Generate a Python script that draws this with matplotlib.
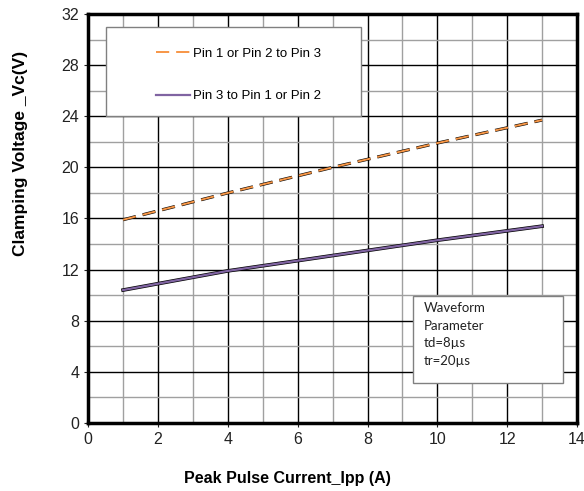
import matplotlib
matplotlib.use("Agg")
import matplotlib.pyplot as plt
from matplotlib.patches import Rectangle

plt.rcParams['font.family'] = ['Liberation Sans', 'DejaVu Sans']
plt.rcParams['lines.scale_dashes'] = False

ipp = [1, 4, 7, 10, 13]
vc_pin12_to_3 = [15.9, 18.0, 20.0, 21.9, 23.7]
vc_pin3_to_12 = [10.4, 11.9, 13.1, 14.3, 15.4]
labels = ["Pin 1 or Pin 2 to Pin 3", "Pin 3 to Pin 1 or Pin 2"]
note = "Waveform\nParameter\ntd=8\u00b5s\ntr=20\u00b5s"

fig = plt.figure(figsize=(5.84, 4.91), dpi=100)
ax = fig.add_axes([0.151, 0.1385, 0.837, 0.833])

ax.set_xlim(0, 14)
ax.set_ylim(0, 32)
ax.set_xticks(range(0, 15, 2))
ax.set_xticks(range(0, 15), minor=True)
ax.set_yticks(range(0, 33, 4))
ax.set_yticks(range(0, 33, 2), minor=True)
ax.grid(which='major', color='black', lw=1.0, zorder=0)
ax.grid(which='minor', color='#a0a0a0', lw=1.0, zorder=0)
ax.set_axisbelow(True)
for s in ax.spines.values():
    s.set_linewidth(2.5)
ax.tick_params(which='both', direction='out', length=3, width=0.8, labelsize=11.5, colors='#222222')
ax.tick_params(which='minor', length=0)

dash = (0, (9.5, 5))
# black shadow under each curve, like the original
ax.plot(ipp, vc_pin12_to_3, color='black', lw=2.2, ls=dash, zorder=3)
l1, = ax.plot(ipp, vc_pin12_to_3, color='#F79646', lw=1.4, ls=dash, zorder=4)
ax.plot(ipp, vc_pin3_to_12, color='black', lw=2.6, zorder=3)
l2, = ax.plot(ipp, vc_pin3_to_12, color='#8064A2', lw=1.6, zorder=4)

ax.add_patch(Rectangle((0.5, 24.0), 7.3, 7.0, facecolor='white', edgecolor='#808080', lw=1.0, zorder=5))
leg = ax.legend([l1, l2], labels, loc='upper left', bbox_to_anchor=(1.75, 29.9),
                bbox_transform=ax.transData, frameon=False, fontsize=9.5,
                handlelength=2.6, handletextpad=0.2, labelspacing=2.3, borderpad=0)
leg.set_zorder(6)

ax.add_patch(Rectangle((9.3, 3.15), 4.3, 6.75, facecolor='white', edgecolor='#808080', lw=1.0, zorder=5))
ax.text(9.6, 9.45, note, fontsize=9.5, family=['Lato', 'DejaVu Sans'], va='top', ha='left',
        linespacing=1.55, color='#222222', zorder=6)

ax.set_xlabel("Peak Pulse Current_Ipp (A)", fontsize=11.5, fontweight='bold')
ax.xaxis.set_label_coords(0.407, -0.117)
ax.set_ylabel("Clamping Voltage _Vc(V)", fontsize=12.5, fontweight='bold')
ax.yaxis.set_label_coords(-0.123, 0.66)

fig.savefig("out.png", dpi=100)
